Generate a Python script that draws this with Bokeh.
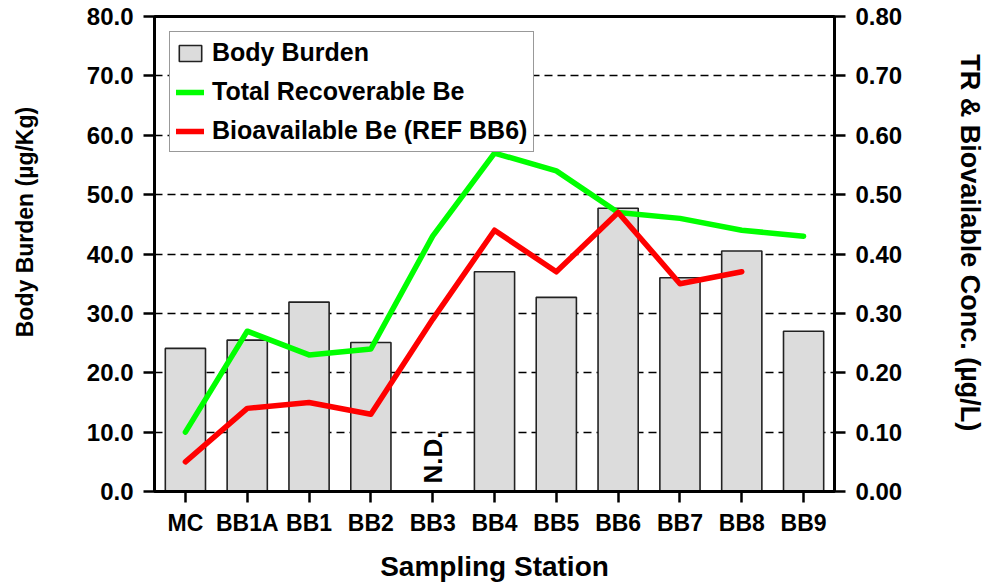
import math
from bokeh.plotting import figure
from bokeh.models import (Range1d, LinearAxis, FixedTicker, NumeralTickFormatter,
                          Legend, LegendItem, ColumnDataSource)
from bokeh.core.properties import value
from bokeh.embed import file_html
from bokeh.resources import INLINE

# ---- data ----
stations = ["MC", "BB1A", "BB1", "BB2", "BB3", "BB4", "BB5", "BB6", "BB7", "BB8", "BB9"]
body_burden = [24.1, 25.5, 31.9, 25.1, float("nan"), 37.0, 32.7, 47.7, 36.0, 40.5, 27.0]
total_recoverable = [0.10, 0.27, 0.23, 0.24, 0.43, 0.57, 0.54, 0.47, 0.46, 0.44, 0.43]
bioavailable = [0.05, 0.14, 0.15, 0.13, 0.29, 0.44, 0.37, 0.47, 0.35, 0.37, float("nan")]
nd_stations = ["BB3"]
nd_values = [0.0]
left_ticks = [0, 10, 20, 30, 40, 50, 60, 70, 80]
right_ticks = [0.0, 0.1, 0.2, 0.3, 0.4, 0.5, 0.6, 0.7, 0.8]

FONT = "Liberation Sans"
NB = "\u00a0"

p = figure(x_range=stations, y_range=Range1d(0, 80),
           width=988, height=585, output_backend="svg", toolbar_location=None,
           min_border_left=154, min_border_right=150, min_border_top=16, min_border_bottom=94)
p.extra_y_ranges = {"right": Range1d(0, 0.8)}

p.outline_line_color = "black"
p.outline_line_width = 3
p.background_fill_color = "white"
p.border_fill_color = "white"

# grid
p.xgrid.visible = False
p.ygrid.ticker = FixedTicker(ticks=left_ticks)
p.ygrid.grid_line_color = "black"
p.ygrid.grid_line_dash = "8 5"
p.ygrid.grid_line_width = 1.3

# bars
src = ColumnDataSource(dict(x=stations, bb=body_burden, tr=total_recoverable, bio=bioavailable))
bars = p.vbar(x="x", top="bb", width=0.65, source=src, fill_color="#dcdcdc",
              line_color="#222222", line_width=1.6)

# lines
l_tr = p.line(x="x", y="tr", source=src, y_range_name="right", line_color="#00ff00",
              line_width=5.5, line_join="round", line_cap="round")
l_bio = p.line(x="x", y="bio", source=src, y_range_name="right", line_color="#ff0000",
               line_width=5.5, line_join="round", line_cap="round")

# N.D. label
p.text(x=nd_stations, y=nd_values, text=["N.D."], angle=math.pi / 2, y_offset=-8,
       text_align="left", text_baseline="middle", text_font=value(FONT),
       text_font_style="bold", text_font_size="26px", text_color="black")

# axes
xa = p.xaxis[0]
xa.axis_label = "Sampling Station"
xa.axis_line_width = 3
xa.major_tick_in = 0
xa.major_tick_out = 11
xa.major_tick_line_width = 2.5
xa.major_label_standoff = 7
xa.major_label_text_font = FONT
xa.major_label_text_font_style = "bold"
xa.major_label_text_font_size = "23px"
xa.major_label_text_color = "black"
xa.axis_label_text_font = FONT
xa.axis_label_text_font_style = "bold"
xa.axis_label_text_font_size = "28px"
xa.axis_label_text_color = "black"
xa.axis_label_standoff = 12

ya = p.yaxis[0]
ya.axis_label = NB * 10 + "Body Burden (µg/Kg)"
ya.ticker = FixedTicker(ticks=left_ticks)
ya.formatter = NumeralTickFormatter(format="0.0")

ra = LinearAxis(y_range_name="right", axis_label="TR & Biovailable Conc.  (µg/L)" + NB * 2)
ra.ticker = FixedTicker(ticks=right_ticks)
ra.formatter = NumeralTickFormatter(format="0.00")
p.add_layout(ra, "right")

for ax in (ya, ra):
    ax.axis_line_width = 3
    ax.major_tick_in = 0
    ax.major_tick_out = 11
    ax.major_tick_line_width = 2.5
    ax.minor_tick_line_color = None
    ax.major_label_standoff = 10
    ax.major_label_text_font = FONT
    ax.major_label_text_font_style = "bold"
    ax.major_label_text_font_size = "24px"
    ax.major_label_text_color = "black"
    ax.axis_label_text_font = FONT
    ax.axis_label_text_font_style = "bold"
    ax.axis_label_text_color = "black"
ya.axis_label_text_font_size = "23px"
ya.axis_label_standoff = 46
ra.axis_label_text_font_size = "27px"
ra.axis_label_standoff = 50

legend = Legend(items=[
    LegendItem(label="Body Burden", renderers=[bars]),
    LegendItem(label="Total Recoverable Be", renderers=[l_tr]),
    LegendItem(label="Bioavailable Be (REF BB6)", renderers=[l_bio]),
], location="top_left")
legend.margin = 15
legend.padding = 6
legend.spacing = 10
legend.glyph_width = 28
legend.glyph_height = 20
legend.label_height = 28
legend.label_standoff = 8
legend.label_text_font = FONT
legend.label_text_font_style = "bold"
legend.label_text_font_size = "25px"
legend.label_text_color = "black"
legend.border_line_color = "#333333"
legend.border_line_width = 1.5
legend.background_fill_color = "white"
legend.background_fill_alpha = 1.0
p.add_layout(legend)

open("out.html", "w").write(file_html(p, INLINE))
